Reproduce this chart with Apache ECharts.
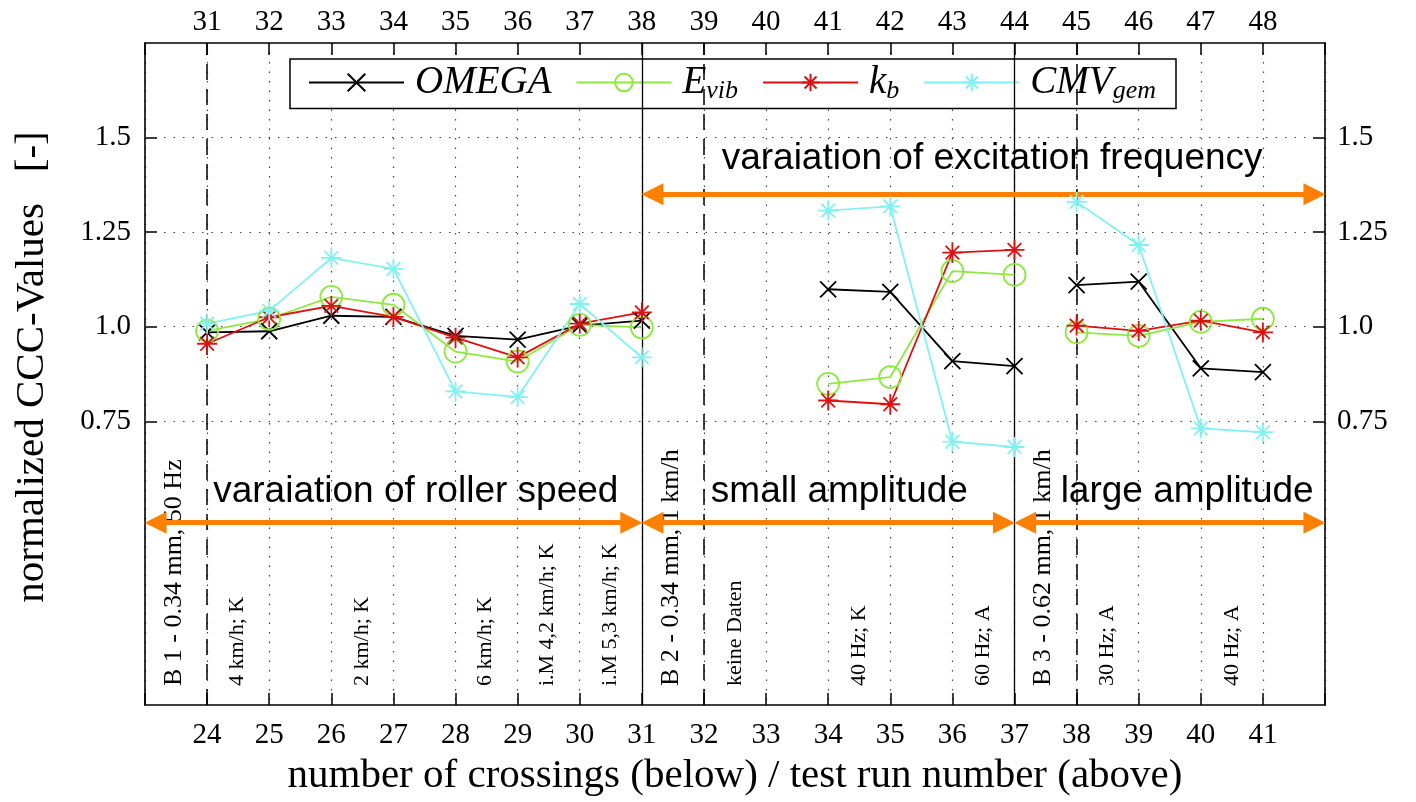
<html>
<head>
	<meta charset="utf-8">
	<title>CCC-Values</title>
	<script src="https://cdn.jsdelivr.net/npm/echarts@6/dist/echarts.min.js"></script>
	<style type="text/css">
		html, body { margin: 0; padding: 0; background: #fff; }
	</style>
</head>
<body>
	<div id="main" style="width:1416px;height:802px"></div>
<script type="text/javascript">
// number of crossings (bottom axis); test run number = crossing + 7
var crossings = [24, 25, 26, 27, 28, 29, 30, 31, 32, 33, 34, 35, 36, 37, 38, 39, 40, 41];
var runOffset = 7;
var omega = [0.985, 0.988, 1.029, 1.026, 0.976, 0.966, 1.003, 1.016, null, null, 1.099, 1.092, 0.909, 0.896, 1.110, 1.119, 0.890, 0.880];
var evib  = [0.989, 1.021, 1.079, 1.058, 0.934, 0.908, 1.005, 0.998, null, null, 0.849, 0.867, 1.147, 1.137, 0.985, 0.976, 1.013, 1.021];
var kb    = [0.955, 1.025, 1.055, 1.026, 0.971, 0.919, 1.008, 1.038, null, null, 0.805, 0.795, 1.196, 1.203, 1.003, 0.989, 1.016, 0.985];
var cmv   = [1.008, 1.042, 1.182, 1.153, 0.829, 0.814, 1.060, 0.919, null, null, 1.307, 1.318, 0.696, 0.682, 1.330, 1.216, 0.731, 0.721];
// blocks that are drawn as connected lines
var segments = [[24, 31], [34, 37], [38, 41]];
var yTicks = [0.75, 1.0, 1.25, 1.5];
// vertical separators
var solidLines = [31, 37];
var dashedLines = [24, 32, 38];
// rotated notes at the bottom of the plot
var noteX = [23.47, 24.48, 26.5, 28.48, 29.48, 30.49, 31.47, 32.5, 34.5, 36.5, 37.47, 38.5, 40.5];
var noteText = ['B 1 - 0.34 mm, 50 Hz', '4 km/h; K', '2 km/h; K', '6 km/h; K', 'i.M 4,2 km/h; K', 'i.M 5,3 km/h; K',
	'B 2 - 0.34 mm, 1 km/h', 'keine Daten', '40 Hz; K', '60 Hz; A', 'B 3 - 0.62 mm, 1 km/h', '30 Hz; A', '40 Hz; A'];
// orange ranges
var zoneText = ['varaiation of roller speed', 'small amplitude', 'large amplitude', 'varaiation of excitation frequency'];
var zoneFrom = [23, 31, 37, 31];
var zoneTo = [31, 37, 42, 42];
var zoneY = [0.482, 0.482, 0.482, 1.35];
var zoneLabelX = [27.36, 34.18, 39.78, 36.64];
var zoneLabelY = [0.563, 0.563, 0.563, 1.444];

var serif = 'Liberation Serif';
var xPath = 'path://M0,0L10,10M10,0L0,10';
var starPath = 'path://M5,0L5,10M0,5L10,5M1.6,1.6L8.4,8.4M8.4,1.6L1.6,8.4';

var vars = [
	{name: 'OMEGA', vals: omega, color: '#000000', symbol: xPath, size: 16},
	{name: 'E_vib', vals: evib, color: '#8fe840', symbol: 'circle', size: 22},
	{name: 'k_b', vals: kb, color: '#dd1111', symbol: starPath, size: 20},
	{name: 'CMV_gem', vals: cmv, color: '#80f2f2', symbol: starPath, size: 20}
];

function pairs(vals, a, b) {
	var out = [];
	for (var i = 0; i < crossings.length; i++) {
		var c = crossings[i];
		if (c >= a && c <= b && vals[i] != null) out.push([c, vals[i]]);
	}
	return out;
}

var series = [];
vars.forEach(function(v) {
	segments.forEach(function(s) {
		series.push({
			name: v.name, type: 'line', data: pairs(v.vals, s[0], s[1]),
			symbol: v.symbol, symbolSize: v.size, z: 5,
			lineStyle: {color: v.color, width: 1.8},
			itemStyle: {color: 'rgba(0,0,0,0)', borderColor: v.color, borderWidth: 1.8}
		});
	});
});

// guides: grid lines, separators and orange arrows
var guideLines = [];
yTicks.forEach(function(t) {
	guideLines.push({yAxis: t, lineStyle: {color: '#444', width: 1.2, type: [1.5, 8]}});
});
solidLines.forEach(function(x) {
	guideLines.push({xAxis: x, lineStyle: {color: '#000', width: 1.3, type: 'solid'}});
});
dashedLines.forEach(function(x) {
	guideLines.push({xAxis: x, lineStyle: {color: '#000', width: 1.5, type: [16, 9]}});
});
var arrowLines = [];
for (var i = 0; i < zoneText.length; i++) {
	arrowLines.push([{coord: [zoneFrom[i] + 0.17, zoneY[i]]}, {coord: [zoneTo[i] - 0.17, zoneY[i]]}]);
}

series.push({
	name: 'notes', type: 'scatter', symbolSize: 0, silent: true, z: 3,
	itemStyle: {opacity: 1},
	data: noteX.map(function(x, i) { return [x, 0.05, noteText[i]]; }),
	label: {
		show: true, position: [0, 0], rotate: 90, align: 'left', verticalAlign: 'middle',
		color: '#000', opacity: 1, fontFamily: serif, textBorderWidth: 0,
		formatter: function(p) {
			return p.value[2].indexOf('B ') === 0 ? '{b|' + p.value[2] + '}' : '{s|' + p.value[2] + '}';
		},
		rich: {b: {fontSize: 26, fontFamily: serif, color: '#000'}, s: {fontSize: 22, fontFamily: serif, color: '#000'}}
	},
	markLine: {
		silent: true, symbol: 'none', animation: false,
		label: {show: false},
		data: guideLines
	}
});
series.push({
	name: 'zones', type: 'scatter', symbolSize: 0, silent: true, z: 4,
	itemStyle: {opacity: 1},
	data: zoneText.map(function(t, i) { return [zoneLabelX[i], zoneLabelY[i], t]; }),
	label: {
		show: true, position: [0, 0], align: 'center', verticalAlign: 'middle',
		color: '#000', opacity: 1, fontFamily: 'Liberation Sans', fontSize: 37, textBorderWidth: 0,
		formatter: function(p) { return p.value[2]; }
	},
	markLine: {
		silent: true, animation: false,
		symbol: ['triangle', 'triangle'], symbolSize: [22, 22],
		label: {show: false},
		lineStyle: {color: '#ff8000', width: 5, type: 'solid', opacity: 1},
		itemStyle: {opacity: 1},
		data: arrowLines
	}
});

var xCommon = {
	type: 'value', min: 23, max: 42, interval: 1,
	axisLine: {show: true, onZero: false, lineStyle: {color: '#000', width: 1.6}},
	axisTick: {show: true, inside: true, length: 12, lineStyle: {color: '#000', width: 1.5}},
	splitLine: {show: false}
};
var yCommon = {
	type: 'value', min: 0, max: 1.75, interval: 0.25,
	axisLine: {show: true, onZero: false, lineStyle: {color: '#000', width: 1.6}},
	axisTick: {show: true, inside: true, length: 12, customValues: yTicks, lineStyle: {color: '#000', width: 1.5}},
	splitLine: {show: false}
};

var option = {
	animation: false,
	backgroundColor: '#fff',
	grid: {left: 145, right: 91, top: 43, bottom: 96, containLabel: false},
	legend: {
		data: ['OMEGA', 'E_vib', 'k_b', 'CMV_gem'],
		left: 290, top: 59, selectedMode: false,
		padding: [4, 20, 4, 18],
		itemWidth: 95, itemHeight: 22, itemGap: 24,
		backgroundColor: '#fff', borderColor: '#000', borderWidth: 1.5, borderRadius: 0,
		formatter: function(n) {
			var p = n.split('_');
			return '{m|' + p[0] + '}' + (p[1] ? '{s|' + p[1] + '}' : '');
		},
		textStyle: {
			padding: [0, 0, 0, 6],
			rich: {
				m: {fontFamily: serif, fontStyle: 'italic', fontSize: 39, lineHeight: 44, color: '#000'},
				s: {fontFamily: serif, fontStyle: 'italic', fontSize: 26, lineHeight: 26, verticalAlign: 'bottom', color: '#000'}
			}
		}
	},
	xAxis: [
		Object.assign({}, xCommon, {
			position: 'bottom',
			name: 'number of crossings (below) / test run number (above)',
			nameLocation: 'middle', nameGap: 51,
			nameTextStyle: {fontFamily: serif, fontSize: 41, color: '#000'},
			axisLabel: {margin: 16, fontFamily: serif, fontSize: 29, color: '#000',
				formatter: function(v) { return (v >= 24 && v <= 41) ? String(v) : ''; }},
			splitLine: {show: true, lineStyle: {color: '#444', width: 1.2, type: [1.5, 8]}}
		}),
		Object.assign({}, xCommon, {
			position: 'top',
			axisLabel: {margin: 6, fontFamily: serif, fontSize: 29, color: '#000',
				formatter: function(v) { return (v >= 24 && v <= 41) ? String(v + runOffset) : ''; }}
		})
	],
	yAxis: [
		Object.assign({}, yCommon, {
			position: 'left',
			name: 'normalized CCC-Values   [-]',
			nameLocation: 'middle', nameGap: 92, nameRotate: 90,
			nameTextStyle: {fontFamily: serif, fontSize: 41, color: '#000', padding: [0, 0, 0, 14]},
			axisLabel: {margin: 14, fontFamily: serif, fontSize: 29, color: '#000', customValues: yTicks,
				formatter: function(v) { return v === 1 ? '1.0' : String(v); }}
		}),
		Object.assign({}, yCommon, {
			position: 'right',
			axisLabel: {margin: 12, fontFamily: serif, fontSize: 29, color: '#000', customValues: yTicks,
				formatter: function(v) { return v === 1 ? '1.0' : String(v); }}
		})
	],
	series: series
};

var myChart = echarts.init(document.getElementById('main'));
myChart.setOption(option);
</script>
</body>
</html>
